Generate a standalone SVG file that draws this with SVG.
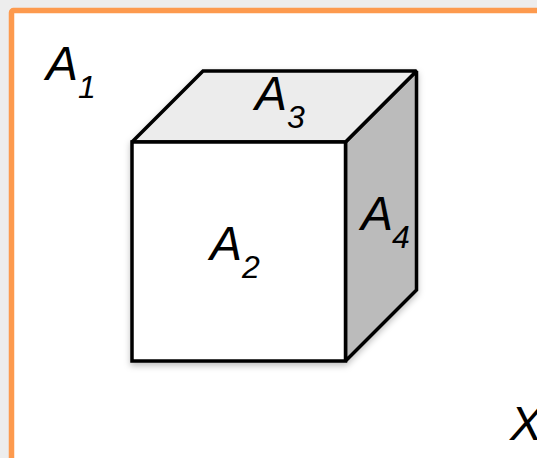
<svg xmlns="http://www.w3.org/2000/svg" width="537" height="458" viewBox="0 0 537 458">
<style>
.l{font-family:"Liberation Sans",Arial,sans-serif;font-style:italic;font-size:48px;fill:#000}
.s{font-family:"Liberation Sans",Arial,sans-serif;font-style:italic;font-size:32px;fill:#000}
.f{stroke:#000;stroke-width:3.500;stroke-linejoin:miter;stroke-miterlimit:2}
</style>
<defs><filter id="sh" x="-10%" y="-10%" width="125%" height="125%"><feDropShadow dx="0" dy="3" stdDeviation="3" flood-color="#000" flood-opacity="0.25"/></filter></defs>
<rect width="537" height="458" fill="#ededed"/>
<g id="frame"><rect x="11.500" y="10.500" width="540" height="470" rx="2" fill="#fff" stroke="#fd9a4e" stroke-width="5.500"/></g>
<g id="cube">
<g filter="url(#sh)">
<polygon id="face-A4" class="f" points="345.500,142 416.500,71 416.500,290 345.500,361" fill="#bbb"/>
<polygon id="face-A3" class="f" points="132,142 203,71 416.500,71 345.500,142" fill="#ececec"/>
<rect id="face-A2" class="f" x="132" y="142" width="213.500" height="219" fill="#fff"/>
</g>
</g>
<g id="label-A1"><text class="l" x="46" y="80">A</text><text class="s" x="78" y="98">1</text></g>
<g id="label-A2"><text class="l" x="210" y="260">A</text><text class="s" x="242" y="278">2</text></g>
<g id="label-A3"><text class="l" x="255" y="110">A</text><text class="s" x="287" y="128">3</text></g>
<g id="label-A4"><text class="l" x="361" y="230">A</text><text class="s" x="392" y="248">4</text></g>
<g id="label-X"><text class="l" x="510" y="440">X</text></g>
</svg>
